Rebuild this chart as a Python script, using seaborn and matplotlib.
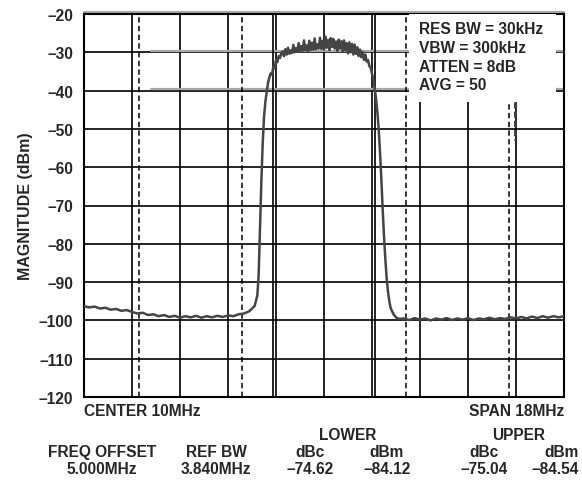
import matplotlib
matplotlib.use("Agg")
import matplotlib.pyplot as plt
import seaborn as sns
import pandas as pd
from matplotlib.patches import Rectangle

# spectrum trace (MHz, dBm)
freq_mhz = [
    1.0, 1.2, 1.4, 1.6, 1.8, 2.0, 2.2, 2.4, 2.6, 2.8, 3.0, 3.2, 3.4, 3.6, 3.8,
    4.0, 4.2, 4.4, 4.6, 4.8, 5.0, 5.2, 5.4, 5.6, 5.8, 6.0, 6.2, 6.4, 6.6, 6.8,
    7.0, 7.2, 7.4, 7.5, 7.55, 7.6, 7.65, 7.7, 7.75, 7.8, 7.85, 7.9, 7.95, 8.0,
    8.05, 8.1, 8.15, 8.2, 8.25, 8.3, 8.35, 8.4,
    8.45, 8.5, 8.55, 8.6, 8.65, 8.7, 8.75, 8.8, 8.85, 8.9, 8.95, 9.0, 9.05,
    9.1, 9.15, 9.2, 9.25, 9.3, 9.35, 9.4, 9.45, 9.5, 9.55, 9.6, 9.65, 9.7,
    9.75, 9.8, 9.85, 9.9, 9.95, 10.0, 10.05, 10.1, 10.15, 10.2, 10.25, 10.3,
    10.35, 10.4, 10.45, 10.5, 10.55, 10.6, 10.65, 10.7, 10.75, 10.8, 10.85,
    10.9, 10.95, 11.0, 11.05, 11.1, 11.15, 11.2, 11.25, 11.3, 11.35, 11.4,
    11.45, 11.5, 11.55, 11.6, 11.65, 11.7, 11.75, 11.8, 11.85, 11.9, 11.95,
    12.0, 12.05, 12.1, 12.15, 12.2, 12.25, 12.3, 12.35, 12.4, 12.45, 12.5,
    12.6, 12.7, 12.8,
    13.0, 13.2, 13.4, 13.6, 13.8, 14.0, 14.2, 14.4, 14.6, 14.8, 15.0, 15.2,
    15.4, 15.6, 15.8, 16.0, 16.2, 16.4, 16.6, 16.8, 17.0, 17.2, 17.4, 17.6,
    17.8, 18.0, 18.2, 18.4, 18.6, 18.8, 19.0,
]
magnitude_dbm = [
    -96.3, -96.6, -96.4, -96.9, -96.7, -97.2, -97.0, -97.5, -97.3, -97.8,
    -98.2, -98.0, -98.6, -98.4, -98.9, -98.6, -99.1, -98.8, -99.3, -98.9,
    -99.2, -98.8, -99.3, -98.9, -99.2, -98.8, -99.1, -98.7, -98.9, -98.4,
    -98.2, -97.6, -96.2, -93.5, -88.0, -76.0, -64.0, -54.0, -47.0, -43.0,
    -40.5, -38.0, -36.6, -35.5, -35.8, -33.8, -34.2, -32.0, -32.6, -31.0,
    -31.5, -30.2,
    -29.8, -31.0, -29.2, -30.6, -28.8, -30.4, -29.5, -30.2, -28.1, -30.0,
    -28.9, -29.9, -27.6, -29.8, -28.4, -29.6, -26.9, -29.5, -28.2, -29.7,
    -27.0, -29.4, -27.5, -29.3, -26.4, -29.2, -27.9, -29.0, -26.2, -29.1,
    -27.0, -29.3, -25.9, -28.8, -26.8, -29.4, -26.3, -28.6, -26.5, -29.0,
    -27.2, -29.6, -26.7, -29.0, -27.1, -29.8, -26.9, -29.5, -27.6, -30.3,
    -27.4, -30.0, -27.8, -30.6, -28.0, -30.4, -28.7, -31.0, -29.3, -31.3,
    -29.9, -32.0, -30.6, -32.4, -32.0, -33.6, -34.0, -35.6, -37.0, -39.5,
    -42.0, -45.5, -50.0, -56.0, -63.0, -71.0, -78.0, -84.0, -89.0, -92.5,
    -95.0, -96.8, -98.3, -99.2, -99.6,
    -99.5, -99.9, -99.4, -99.8, -99.5, -100.0, -99.5, -99.8, -99.4, -99.9,
    -99.5, -99.8, -99.4, -99.9, -99.5, -99.7, -99.3, -99.7, -99.4, -99.6,
    -99.2, -99.5, -99.1, -99.5, -99.0, -99.4, -98.9, -99.3, -98.9, -99.2,
    -98.9,
]

# channel markers (MHz)
main_channel_edges = [8.08, 11.92]
adjacent_channel_edges = [3.08, 6.92, 13.08, 16.92]
x_grid = [1.0, 2.8, 4.6, 6.4, 8.2, 10.0, 11.8, 13.6, 15.4, 17.2, 19.0]
y_ticks = [-20, -30, -40, -50, -60, -70, -80, -90, -100, -110, -120]

settings_text = ["RES BW = 30kHz", "VBW = 300kHz", "ATTEN = 8dB", "AVG = 50"]

header_cols = ["FREQ OFFSET", "REF BW", "dBc", "dBm", "dBc", "dBm"]
value_cols = ["5.000MHz", "3.840MHz", "\u201374.62", "\u201384.12",
              "\u201375.04", "\u201384.54"]

sns.set_theme(style="white")
plt.rcParams['font.family'] = ['Liberation Sans', 'DejaVu Sans']
plt.rcParams['font.weight'] = 'bold'

FS = 11.2
W, H = 582, 485
fig = plt.figure(figsize=(W / 100, H / 100), dpi=100)
ax = fig.add_axes([84 / W, 1 - 398 / H, 480 / W, 383 / H])

df = pd.DataFrame({"freq": freq_mhz, "mag": magnitude_dbm})

# grid
for x in x_grid:
    ax.axvline(x, color="black", lw=1.2, zorder=1)
for y in y_ticks:
    ax.axhline(y, color="black", lw=1.2, zorder=1)

# gray display lines
ax.plot([1.0, 19.0], [-19.6, -19.6], color="#a8a8a8", lw=1.6, clip_on=False, zorder=1)
for y in [-29.6, -39.6]:
    ax.plot([3.5, 19.0], [y, y], color="#a8a8a8", lw=1.6, zorder=1)

for x in main_channel_edges:
    ax.axvline(x, color="black", lw=1.2, zorder=2)
for x in adjacent_channel_edges:
    ax.axvline(x, color="black", lw=1.1, linestyle=(0, (3.5, 2.2)), zorder=2)

# white box behind the analyzer settings
ax.add_patch(Rectangle((13.2, -43.0), 5.5, 23.0, facecolor="white",
                       edgecolor="none", zorder=3))
for i, s in enumerate(settings_text):
    ax.text(13.55, -23.8 - i * 4.9, s, fontsize=FS, fontweight="bold",
            ha="left", va="center", zorder=4)

# marker
ax.plot([17.16, 17.16], [-43.0, -53.0], color="#404040", lw=2.2,
        linestyle=(0, (2, 1)), zorder=3)

sns.lineplot(data=df, x="freq", y="mag", ax=ax, color="#454545", lw=1.8,
             sort=False, estimator=None, zorder=5)

ax.set_xlim(1, 19)
ax.set_ylim(-120, -20)
ax.set_xticks([])
ax.set_yticks(y_ticks)
ax.set_yticklabels([f"\u2013{abs(v)}" for v in y_ticks], fontsize=FS,
                   fontweight="bold")
ax.tick_params(axis="y", length=0, pad=8)
ax.set_xlabel("")
ax.set_ylabel("MAGNITUDE (dBm)", fontsize=11.5, fontweight="bold", labelpad=4)
for side in ["left", "right", "bottom", "top"]:
    ax.spines[side].set_color("black")
    ax.spines[side].set_linewidth(1.5)


def ftext(x, y, s, ha="center"):
    fig.text(x / W, 1 - y / H, s, fontsize=FS, fontweight="bold",
             ha=ha, va="center")


ftext(84, 412, "CENTER 10MHz", ha="left")
ftext(564, 412, "SPAN 18MHz", ha="right")
ftext(348, 436, "LOWER")
ftext(519, 436, "UPPER")
header_x = [102, 216, 310, 387, 484, 579]
for x, h, v in zip(header_x, header_cols, value_cols):
    if x > 570:
        ftext(x, 453, h, ha="right")
        ftext(x, 470, v, ha="right")
    else:
        ftext(x, 453, h)
        ftext(x, 470, v)

fig.savefig("out.png", dpi=100)
